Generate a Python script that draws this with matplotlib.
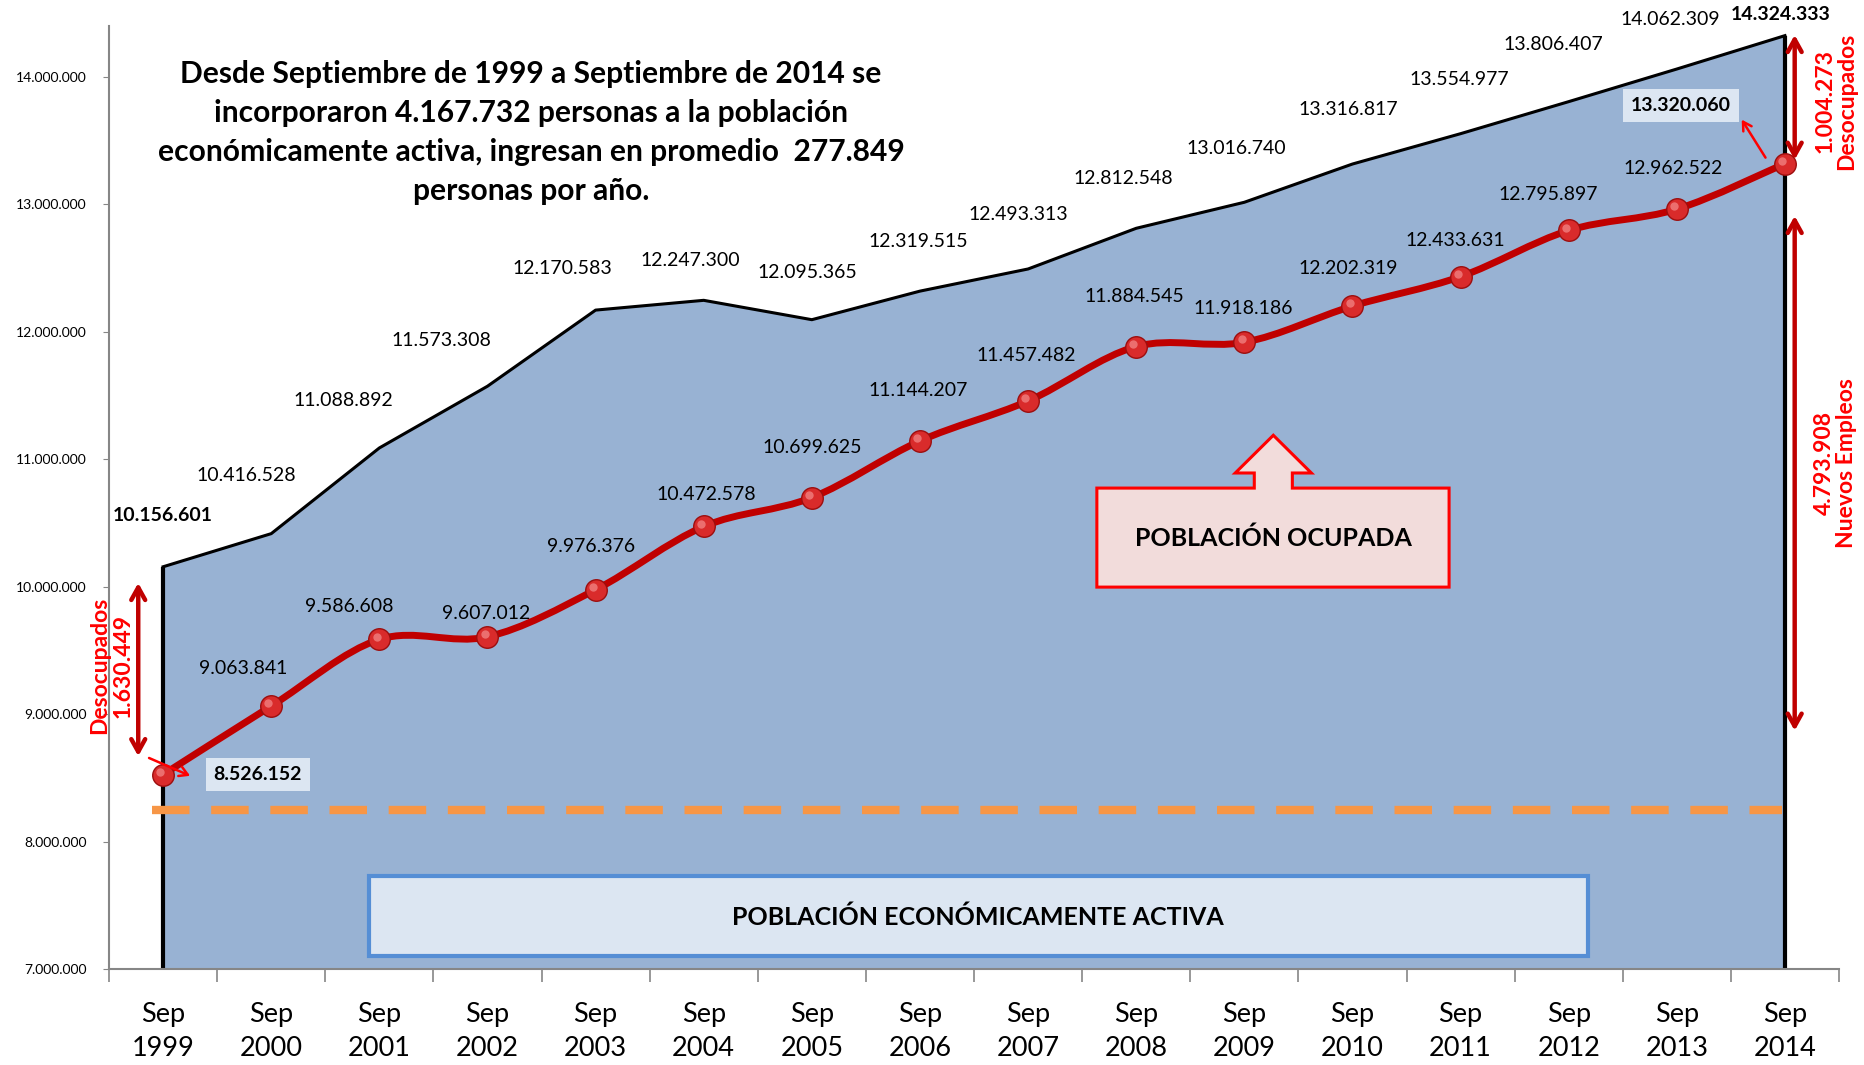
import matplotlib
matplotlib.use('Agg')
import matplotlib.pyplot as plt
from matplotlib.path import Path
from matplotlib.patches import PathPatch, Polygon, Rectangle
from matplotlib.ticker import FuncFormatter, FixedLocator
from matplotlib.transforms import offset_copy

plt.rcParams['font.family'] = ['Lato', 'DejaVu Sans']

# Datos (septiembre de cada año)
etiquetas_x = ['Sep\n1999', 'Sep\n2000', 'Sep\n2001', 'Sep\n2002', 'Sep\n2003', 'Sep\n2004',
               'Sep\n2005', 'Sep\n2006', 'Sep\n2007', 'Sep\n2008', 'Sep\n2009', 'Sep\n2010',
               'Sep\n2011', 'Sep\n2012', 'Sep\n2013', 'Sep\n2014']
poblacion_activa = [10156601, 10416528, 11088892, 11573308, 12170583, 12247300, 12095365, 12319515,
                    12493313, 12812548, 13016740, 13316817, 13554977, 13806407, 14062309, 14324333]
poblacion_ocupada = [8526152, 9063841, 9586608, 9607012, 9976376, 10472578, 10699625, 11144207,
                     11457482, 11884545, 11918186, 12202319, 12433631, 12795897, 12962522, 13320060]
linea_referencia = 8250000
ticks_y = [7000000, 8000000, 9000000, 10000000, 11000000, 12000000, 13000000, 14000000]

# desplazamiento de las etiquetas (puntos)
desp_activa = [(0, 37), (-18, 42), (-26, 34), (-33, 33), (-24, 30), (-10, 29), (-3, 34), (-1, 36),
               (-7, 39), (-9, 36), (-6, 39), (-3, 39), (-1, 39), (-11, 41), (-5, 36), (-3, 15)]
desp_ocupada = [(68, 0), (-20, 27), (-22, 24), (-1, 17), (-3, 31), (2, 23), (0, 36), (-1, 36),
                (-1, 33), (-1, 36), (-1, 24), (-3, 27), (-4, 26), (-15, 26), (-3, 29), (-75, 42)]


def fmt(v):
    return f"{v:,}".replace(',', '.')


def curva_suave(x, y):
    # curva tipo "linea suavizada" de Excel (Catmull-Rom -> Bezier)
    verts = [(x[0], y[0])]
    codes = [Path.MOVETO]
    n = len(x)
    for i in range(n - 1):
        x0, y0 = (x[i - 1], y[i - 1]) if i > 0 else (x[i], y[i])
        x3, y3 = (x[i + 2], y[i + 2]) if i + 2 < n else (x[i + 1], y[i + 1])
        c1 = (x[i] + (x[i + 1] - x0) / 6, y[i] + (y[i + 1] - y0) / 6)
        c2 = (x[i + 1] - (x3 - x[i]) / 6, y[i + 1] - (y3 - y[i]) / 6)
        verts += [c1, c2, (x[i + 1], y[i + 1])]
        codes += [Path.CURVE4] * 3
    return Path(verts, codes)


fig = plt.figure(figsize=(18.64, 10.65), dpi=100)
ax = fig.add_axes([0.0585, 0.0901, 0.9281, 0.8855])

x = list(range(len(poblacion_activa)))
base = ticks_y[0]

# area poblacion economicamente activa
ax.fill_between(x, base, poblacion_activa, color='#98b2d3', zorder=1, lw=0)
ax.plot(x, poblacion_activa, color='black', lw=2.2, zorder=2)
ax.vlines([x[0], x[-1]], base, [poblacion_activa[0], poblacion_activa[-1]], color='black', lw=3, zorder=2)

# linea naranja
ax.hlines(linea_referencia, -0.1, 14.97, color='#f79646', lw=6, linestyles=(0, (4.5, 2.6)), zorder=2)

# recuadro PEA
ax.add_patch(Rectangle((0.15, 0.0138), 0.705, 0.0848, transform=ax.transAxes,
                       facecolor='#dce6f2', edgecolor='#558ed5', lw=3, zorder=3))
ax.text(0.5025, 0.055, 'POBLACIÓN ECONÓMICAMENTE ACTIVA', transform=ax.transAxes,
        ha='center', va='center', fontsize=18, weight='bold', zorder=4)

# recuadro poblacion ocupada con flecha
pts = [(0.571, 0.405), (0.7746, 0.405), (0.7746, 0.510), (0.684, 0.510), (0.684, 0.526),
       (0.695, 0.526), (0.673, 0.566), (0.651, 0.526), (0.662, 0.526), (0.662, 0.510), (0.571, 0.510)]
ax.add_patch(Polygon(pts, closed=True, transform=ax.transAxes, facecolor='#f2dcdb',
                     edgecolor='#ff0000', lw=2.2, zorder=3))
ax.text(0.673, 0.457, 'POBLACIÓN OCUPADA', transform=ax.transAxes, ha='center', va='center',
        fontsize=18, weight='bold', zorder=4)

# linea poblacion ocupada
ax.add_patch(PathPatch(curva_suave(x, poblacion_ocupada), facecolor='none', edgecolor='#c00000',
                       lw=5, zorder=5, capstyle='round'))
ax.plot(x, poblacion_ocupada, 'o', ms=15.5, mfc='#d92b2b', mec='#9c0e0e', mew=1, zorder=6)
brillo = offset_copy(ax.transData, fig=fig, x=-2, y=2, units='points')
ax.plot(x, poblacion_ocupada, 'o', ms=6, mfc='#f08080', mec='none', alpha=0.8, zorder=6, transform=brillo)

# etiquetas
for i, v in enumerate(poblacion_activa):
    ax.annotate(fmt(v), xy=(i, v), xytext=desp_activa[i], textcoords='offset points',
                ha='center', va='center', fontsize=14,
                weight='bold' if i in (0, len(x) - 1) else 'normal', zorder=7)
for i, v in enumerate(poblacion_ocupada):
    if i in (0, len(x) - 1):
        ax.annotate(fmt(v), xy=(i, v), xytext=desp_ocupada[i], textcoords='offset points',
                    ha='center', va='center', fontsize=14, weight='bold', zorder=7,
                    bbox=dict(boxstyle='square,pad=0.4', facecolor='#dce6f2', edgecolor='none'))
    else:
        ax.annotate(fmt(v), xy=(i, v), xytext=desp_ocupada[i], textcoords='offset points',
                    ha='center', va='center', fontsize=14, zorder=7)

# flechitas hacia los recuadros
flecha_chica = dict(arrowstyle='->,head_length=0.6,head_width=0.35', color='#ff0000', lw=1.8,
                    shrinkA=0, shrinkB=0)
ax.annotate('', xy=(0.25, poblacion_ocupada[0] - 10000), xytext=(-0.13, poblacion_ocupada[0] + 130000),
            arrowprops=flecha_chica, zorder=7)
ax.annotate('', xy=(14.6, poblacion_ocupada[-1] + 345000), xytext=(14.82, poblacion_ocupada[-1] + 47000),
            arrowprops=flecha_chica, zorder=7)

# flechas dobles
doble = dict(arrowstyle='<->,head_length=0.9,head_width=0.5', color='#c00000', lw=3.2,
             shrinkA=0, shrinkB=0)
ax.annotate('', xy=(-0.23, 10030000), xytext=(-0.23, 8670000), arrowprops=doble, zorder=7)
ax.annotate('', xy=(15.09, 14330000), xytext=(15.09, 13350000), arrowprops=doble, zorder=7)
ax.annotate('', xy=(15.09, 12910000), xytext=(15.09, 8870000), arrowprops=doble, zorder=7)

ax.text(-0.478, 9380000, 'Desocupados\n' + fmt(poblacion_activa[0] - poblacion_ocupada[0]),
        rotation=90, ha='center', va='center', color='#ff0000', fontsize=16.5, weight='bold',
        linespacing=1.1, zorder=7)
ax.text(15.47, 13810000, fmt(poblacion_activa[-1] - poblacion_ocupada[-1]) + '\nDesocupados',
        rotation=90, ha='center', va='center', color='#ff0000', fontsize=16.5, weight='bold',
        linespacing=1.05, zorder=7, clip_on=False)
ax.text(15.47, 10970000, fmt(poblacion_ocupada[-1] - poblacion_ocupada[0]) + '\nNuevos Empleos',
        rotation=90, ha='center', va='center', color='#ff0000', fontsize=16.5, weight='bold',
        linespacing=1.05, zorder=7, clip_on=False)

# texto resumen
ax.text(0.244, 0.887,
        'Desde Septiembre de 1999 a Septiembre de 2014 se\n'
        'incorporaron 4.167.732 personas a la población\n'
        'económicamente activa, ingresan en promedio  277.849\n'
        'personas por año.',
        transform=ax.transAxes, ha='center', va='center', multialignment='center',
        fontsize=21.6, weight='bold', linespacing=1.48, zorder=7)

# ejes
ax.set_xlim(-0.5, len(x) - 0.5)
ax.set_ylim(7000000, 14400000)
ax.set_yticks(ticks_y)
ax.yaxis.set_major_formatter(FuncFormatter(lambda v, p: fmt(int(v))))
ax.tick_params(axis='y', labelsize=10, direction='out', length=4, pad=12, color='#868686')
ax.set_xticks(x)
ax.set_xticklabels(etiquetas_x, fontsize=19.5, linespacing=1.45)
ax.xaxis.set_minor_locator(FixedLocator([i - 0.5 for i in range(len(x) + 1)]))
ax.tick_params(axis='x', which='major', length=0, pad=24)
ax.tick_params(axis='x', which='minor', length=9, direction='out', color='#868686', width=1.2)
for s in ('top', 'right'):
    ax.spines[s].set_visible(False)
for s in ('left', 'bottom'):
    ax.spines[s].set_color('#868686')
    ax.spines[s].set_linewidth(1.5)

fig.savefig('out.png', dpi=100, facecolor='white')
